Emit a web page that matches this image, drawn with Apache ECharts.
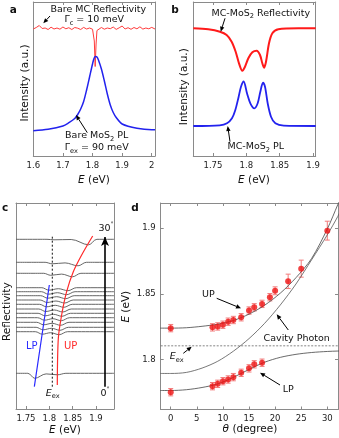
<!DOCTYPE html>
<html>
<head>
<meta charset="utf-8">
<script src="https://cdn.jsdelivr.net/npm/echarts@6/dist/echarts.min.js"></script>
<style>
html, body { margin: 0; padding: 0; background: #fff; }
#chart { width: 339px; height: 438px; }
</style>
</head>
<body>
<div id="chart"></div>
<script>
const FONT = "DejaVu Sans";
const AX = "#8a8a8a";

// ---- panel a : bare cavity reflectivity / bare MoS2 PL
const aRedE = [1.60,1.61,1.62,1.63,1.64,1.65,1.66,1.67,1.68,1.69,1.70,1.71,1.72,1.73,1.74,1.75,1.76,1.77,1.78,1.79,1.80,1.803,1.806,1.809,1.812,1.815,1.82,1.83,1.84,1.85,1.86,1.87,1.88,1.89,1.90,1.91,1.92,1.93,1.94,1.95,1.96,1.97,1.98,1.99,2.00,2.011];
const aRedI = [126,127.5,129.5,126.5,127,125.5,127.8,126,127,125.8,128,126.2,127.3,125.5,127.5,126.8,125.5,127.6,126,127,125.8,125,114,88.5,111,124.5,126,127.5,125.8,127,126.3,128,125.6,127.2,129,126,127.3,125.7,127.5,126.2,128.2,125.9,127,126.2,127.6,126];
const aBlueE = [1.60,1.65,1.70,1.72,1.74,1.75,1.76,1.77,1.78,1.79,1.80,1.805,1.81,1.815,1.82,1.83,1.84,1.85,1.86,1.87,1.88,1.90,1.95,2.00,2.011];
const aBlueI = [24.3,25.7,29,32.3,36.5,40.5,46,53.5,65,78,91,96.5,98.4,98,95,86,74,61,50,42.5,37.5,31,26.7,25.3,25.3];

// ---- panel b : strongly coupled cavity
const bRedE = [1.7205,1.743,1.7605,1.7705,1.778,1.784,1.789,1.794,1.798,1.803,1.809,1.8155,1.8205,1.824,1.8265,1.8295,1.834,1.839,1.848,1.878,1.904];
const bRedI = [128.7,127.7,125.3,122,115.3,105.3,93.7,86.3,90.3,98.7,104.7,106.3,102,93.7,89.3,95.3,113.7,123.7,127.7,128.7,128.7];
const bBlueE = [1.7205,1.76,1.771,1.7785,1.7835,1.7885,1.792,1.796,1.801,1.806,1.812,1.817,1.821,1.825,1.828,1.832,1.837,1.8435,1.856,1.904];
const bBlueI = [31,31.7,33.7,38.7,47,60.3,70.3,75.5,63.7,53.7,48.7,53.7,65.3,74.3,70.3,53.7,40.3,33.7,31.3,31];

// ---- panel c : angle resolved reflectivity spectra (0 .. 30 deg)
const cAngles   = [0,8,9,10,11,12,13.5,15,16,17.5,19,20,22.5,25,30];
const cOffset   = [35.7,77.3,81.7,86.7,91.3,95.7,100,104.7,109,113.3,117.3,121.3,135.7,146.7,169.7];
const cLpE      = [1.769,1.785,1.7867,1.788,1.7897,1.791,1.7924,1.794,1.7953,1.7966,1.798,1.799,1.803,1.806,1.81];
const cLpDepth  = [5,2.5,2.5,2.5,2.5,2.5,2.5,2.5,2.5,2.5,2.5,2.5,2,1.5,0.5];
const cUpE      = [1.8175,1.821,1.8229,1.8242,1.8256,1.8272,1.829,1.8312,1.8332,1.8353,1.8371,1.84,1.8497,1.8615,1.884];
const cUpDepth  = [1.5,3,3,3,3,3,3,3,3,3,3,3,3.5,3.5,5.5];
const cLpLineE  = [1.7679,1.784,1.800];
const cLpLineV  = [22.3,73,124];
const cUpLineE  = [1.8171,1.8193,1.8264,1.8371,1.8514,1.8693,1.8929];
const cUpLineV  = [24,70.7,94,117.3,137.3,154,173];
const cExE = 1.8064;

// ---- panel d : dispersion
const theta = [0,8,9,10,11,12,13.5,15,16,17.5,19,20,22.5,25,30];
const upE   = [1.8238,1.8244,1.8251,1.8264,1.8287,1.830,1.8321,1.8372,1.8397,1.8423,1.8474,1.8523,1.8595,1.8692,1.8982];
const upErr = [0.0028,0.0028,0.0028,0.0028,0.0028,0.0028,0.0028,0.0028,0.0028,0.0028,0.0028,0.003,0.0055,0.0065,0.0072];
const lpTheta = [0,8,9,10,11,12,13.5,15,16,17.5];
const lpE   = [1.7749,1.7795,1.7813,1.7833,1.7846,1.7864,1.7897,1.7931,1.7962,1.7974];
const lpErr = [0.0028,0.0028,0.0028,0.0028,0.0028,0.0028,0.0028,0.0028,0.0028,0.0028];
const fitTheta = [-2,0,3,6,9,12,15,18,21,24,27,30,32,34];
const upFit  = [1.8238,1.8238,1.8241,1.8252,1.8268,1.8296,1.8345,1.8413,1.8505,1.8623,1.877,1.8995,1.918,1.937];
const cavFit = [1.7892,1.7892,1.790,1.7933,1.7985,1.8062,1.8158,1.8275,1.8415,1.8575,1.876,1.895,1.909,1.925];
const lpFit  = [1.7762,1.7762,1.7768,1.7785,1.7812,1.7862,1.7923,1.7978,1.8015,1.8038,1.8052,1.806,1.8063,1.8065];
const eEx = 1.8103;

const pairs = (xs, ys) => xs.map((x, i) => [x, ys[i]]);
const fmt = v => String(parseFloat(v.toFixed(3)));

function xAxes(grid, min, max, ticks) {
  const base = {
    type: "value", gridIndex: grid, min: min, max: max,
    splitLine: { show: false },
    axisLine: { show: true, onZero: false, lineStyle: { color: AX, width: 1 } },
    axisTick: { show: true, inside: true, length: 3, customValues: ticks, lineStyle: { color: AX } }
  };
  return [
    Object.assign({}, base, { position: "bottom",
      axisLabel: { show: true, customValues: ticks, formatter: fmt, margin: 5, fontSize: 8.5, color: "#222", fontFamily: FONT } }),
    Object.assign({}, base, { position: "top", axisLabel: { show: false } })
  ];
}

function yAxes(grid, min, max, ticks) {
  const base = {
    type: "value", gridIndex: grid, min: min, max: max,
    splitLine: { show: false },
    axisLine: { show: true, onZero: false, lineStyle: { color: AX, width: 1 } },
    axisTick: ticks ? { show: true, inside: true, length: 3, customValues: ticks, lineStyle: { color: AX } } : { show: false }
  };
  return [
    Object.assign({}, base, { position: "left",
      axisLabel: ticks ? { show: true, customValues: ticks, formatter: fmt, margin: 5, fontSize: 8.5, color: "#222", fontFamily: FONT } : { show: false } }),
    Object.assign({}, base, { position: "right", axisLabel: { show: false } })
  ];
}

function line(ax, data, color, width, extra) {
  return Object.assign({
    type: "line", xAxisIndex: ax, yAxisIndex: ax, data: data,
    symbol: "none", silent: true, animation: false,
    lineStyle: { color: color, width: width }
  }, extra || {});
}

function errBars(data) {
  return {
    type: "custom", xAxisIndex: 6, yAxisIndex: 6, data: data, z: 3, silent: true, animation: false,
    renderItem: (params, api) => {
      const x = api.value(0), y = api.value(1), e = api.value(2);
      const t = api.coord([x, y + e]), b = api.coord([x, y - e]);
      const st = { stroke: "#f27b7b", lineWidth: 1 };
      return { type: "group", children: [
        { type: "line", shape: { x1: t[0], y1: t[1], x2: b[0], y2: b[1] }, style: st },
        { type: "line", shape: { x1: t[0] - 2.5, y1: t[1], x2: t[0] + 2.5, y2: t[1] }, style: st },
        { type: "line", shape: { x1: b[0] - 2.5, y1: b[1], x2: b[0] + 2.5, y2: b[1] }, style: st }
      ] };
    }
  };
}

// spectra of panel c
const cSeries = cAngles.map((ang, i) => {
  const off = cOffset[i], lp = cLpE[i], up = cUpE[i];
  const mid = (lp + up) / 2;
  const pts = [
    [1.7286, off], [lp - 0.015, off], [lp, off - cLpDepth[i]],
    [mid, off - Math.min(cLpDepth[i], cUpDepth[i]) * 0.4],
    [up, off - cUpDepth[i]], [up + 0.018, off], [1.9386, off]
  ];
  return line(4, pts, "#555", 0.9, { smooth: 0.35 });
});

function rich(sz) {
  return {
    n: { fontSize: sz, fontFamily: FONT, lineHeight: sz + 4 },
    i: { fontSize: sz, fontFamily: FONT, fontStyle: "italic", lineHeight: sz + 4 },
    s: { fontSize: sz * 0.7, fontFamily: FONT, verticalAlign: "bottom" },
    u: { fontSize: sz * 0.65, fontFamily: FONT, verticalAlign: "top" }
  };
}
function txt(x, y, text, o) {
  o = o || {};
  const sz = o.size || 9.5;
  return { type: "text", x: x, y: y, rotation: o.rot || 0, z: 10, silent: true,
    style: { text: text, fill: o.color || "#111", fontSize: sz, fontFamily: FONT,
      fontWeight: o.bold ? "bold" : "normal", align: "center", verticalAlign: "middle", rich: rich(sz) } };
}
function arrow(x1, y1, x2, y2) {
  const a = Math.atan2(y2 - y1, x2 - x1), L = 5, W = 2.2;
  const bx = x2 - L * Math.cos(a), by = y2 - L * Math.sin(a);
  return [
    { type: "line", z: 10, silent: true, shape: { x1: x1, y1: y1, x2: bx, y2: by }, style: { stroke: "#000", lineWidth: 1 } },
    { type: "polygon", z: 10, silent: true, shape: { points: [[x2, y2], [bx + W * Math.sin(a), by - W * Math.cos(a)], [bx - W * Math.sin(a), by + W * Math.cos(a)]] }, style: { fill: "#000" } }
  ];
}

const R = Math.PI / 2;
const graphics = [
  txt(13.3, 10, "a", { bold: true, size: 10.5 }),
  txt(98.3, 9.3, "{n|Bare MC Reflectivity}"),
  txt(94.2, 19.8, "{n|Γ}{s|c}{n| = 10 meV}"),
  txt(96.7, 136, "{n|Bare MoS}{s|2}{n| PL}"),
  txt(96.7, 147.7, "{n|Γ}{s|ex}{n| = 90 meV}"),
  txt(175, 10, "b", { bold: true, size: 10.5 }),
  txt(260.8, 13.3, "{n|MC-MoS}{s|2}{n| Reflectivity}"),
  txt(255.8, 146.7, "{n|MC-MoS}{s|2}{n| PL}"),
  txt(5, 208.3, "c", { bold: true, size: 10.5 }),
  txt(135, 208.5, "d", { bold: true, size: 10.5 }),
  txt(31.7, 346.7, "LP", { color: "#2a2aff", size: 10 }),
  txt(70.7, 346.7, "UP", { color: "#ff2a2a", size: 10 }),
  txt(52.7, 393.3, "{i|E}{s|ex}"),
  txt(106, 228.3, "{n|30}{u|°}"),
  txt(105, 393.3, "{n|0}{u|°}"),
  txt(208.3, 294.3, "{n|UP}"),
  txt(296.7, 338.3, "{n|Cavity Photon}"),
  txt(288.3, 390, "{n|LP}"),
  txt(176.7, 356.7, "{i|E}{s|ex}"),
  txt(94, 180, "{i|E}{n| (eV)}", { size: 10.5 }),
  txt(254, 180, "{i|E}{n| (eV)}", { size: 10.5 }),
  txt(65, 430, "{i|E}{n| (eV)}", { size: 10.5 }),
  txt(250, 429, "{i|θ}{n| (degree)}", { size: 10.5 }),
  txt(25, 83, "{n|Intensity (a.u.)}", { size: 10.5, rot: R }),
  txt(184.3, 86.7, "{n|Intensity (a.u.)}", { size: 10.5, rot: R }),
  txt(7.3, 311.7, "{n|Reflectivity}", { size: 10.5, rot: R }),
  txt(126.7, 306.7, "{i|E}{n| (eV)}", { size: 10.5, rot: R })
].concat(
  arrow(50, 16, 43.3, 23.3),
  arrow(87.3, 132.7, 76, 115),
  arrow(225, 18.3, 220.7, 31.7),
  arrow(230, 141.7, 227.7, 126),
  arrow(216.7, 298.3, 241, 308.3),
  arrow(288.3, 330, 276.7, 314.3),
  arrow(280, 385, 260, 372.7),
  arrow(183.3, 353.3, 191.7, 346.7)
);

const chart = echarts.init(document.getElementById("chart"), null, { renderer: "canvas" });
chart.setOption({
  animation: false,
  backgroundColor: "#fff",
  grid: [
    { left: 33.3, top: 2, width: 121.7, height: 154, outerBoundsMode: "none" },
    { left: 193.3, top: 2, width: 122.4, height: 154, outerBoundsMode: "none" },
    { left: 16, top: 203, width: 98, height: 206, outerBoundsMode: "none" },
    { left: 160.7, top: 203, width: 177.3, height: 206.5, outerBoundsMode: "none" }
  ],
  xAxis: [].concat(
    xAxes(0, 1.6, 2.011, [1.6, 1.7, 1.8, 1.9, 2.0]),
    xAxes(1, 1.7205, 1.904, [1.75, 1.8, 1.85, 1.9]),
    xAxes(2, 1.7286, 1.9386, [1.75, 1.8, 1.85, 1.9]),
    xAxes(3, -1.92, 32.05, [0, 5, 10, 15, 20, 25, 30])
  ),
  yAxis: [].concat(
    yAxes(0, -1, 153, null),
    yAxes(1, 1, 155, null),
    yAxes(2, 0, 206, null),
    yAxes(3, 1.7617, 1.9193, [1.8, 1.85, 1.9])
  ),
  graphic: graphics,
  series: [
    line(0, pairs(aRedE, aRedI), "#ff3b3b", 1),
    line(0, pairs(aBlueE, aBlueI), "#2222ee", 1.5, { smooth: 0.3 }),
    line(2, pairs(bRedE, bRedI), "#ff1a1a", 2, { smooth: 0.3 }),
    line(2, pairs(bBlueE, bBlueI), "#2222ee", 1.8, { smooth: 0.3 }),
    ...cSeries,
    line(4, pairs(cLpLineE, cLpLineV), "#2a2aff", 1.2),
    line(4, pairs(cUpLineE, cUpLineV), "#ff2a2a", 1.2, { smooth: 0.3 }),
    line(4, [[cExE, 22.3], [cExE, 173.3]], "#111", 1, {
      lineStyle: { color: "#111", width: 1, type: [2, 2] },
      markLine: {
        silent: true, animation: false, symbol: ["none", "arrow"], symbolSize: [6, 9],
        label: { show: false },
        lineStyle: { color: "#000", width: 1.6, type: "solid" },
        data: [[{ coord: [1.9193, 22.3] }, { coord: [1.9193, 172] }]]
      }
    }),
    line(6, [[-1.92, eEx], [32.05, eEx]], "#666", 0.8, { lineStyle: { color: "#666", width: 0.8, type: [2, 1.5] } }),
    line(6, pairs(fitTheta, cavFit), "#555", 0.8, { smooth: 0.3 }),
    line(6, pairs(fitTheta, upFit), "#444", 0.8, { smooth: 0.3 }),
    line(6, pairs(fitTheta, lpFit), "#444", 0.8, { smooth: 0.3 }),
    errBars(theta.map((t, i) => [t, upE[i], upErr[i]])),
    errBars(lpTheta.map((t, i) => [t, lpE[i], lpErr[i]])),
    { type: "scatter", xAxisIndex: 6, yAxisIndex: 6, data: pairs(theta, upE), symbolSize: 6, z: 4, silent: true, animation: false, itemStyle: { color: "#ee1111" } },
    { type: "scatter", xAxisIndex: 6, yAxisIndex: 6, data: pairs(lpTheta, lpE), symbolSize: 6, z: 4, silent: true, animation: false, itemStyle: { color: "#ee1111" } }
  ]
});
</script>
</body>
</html>
